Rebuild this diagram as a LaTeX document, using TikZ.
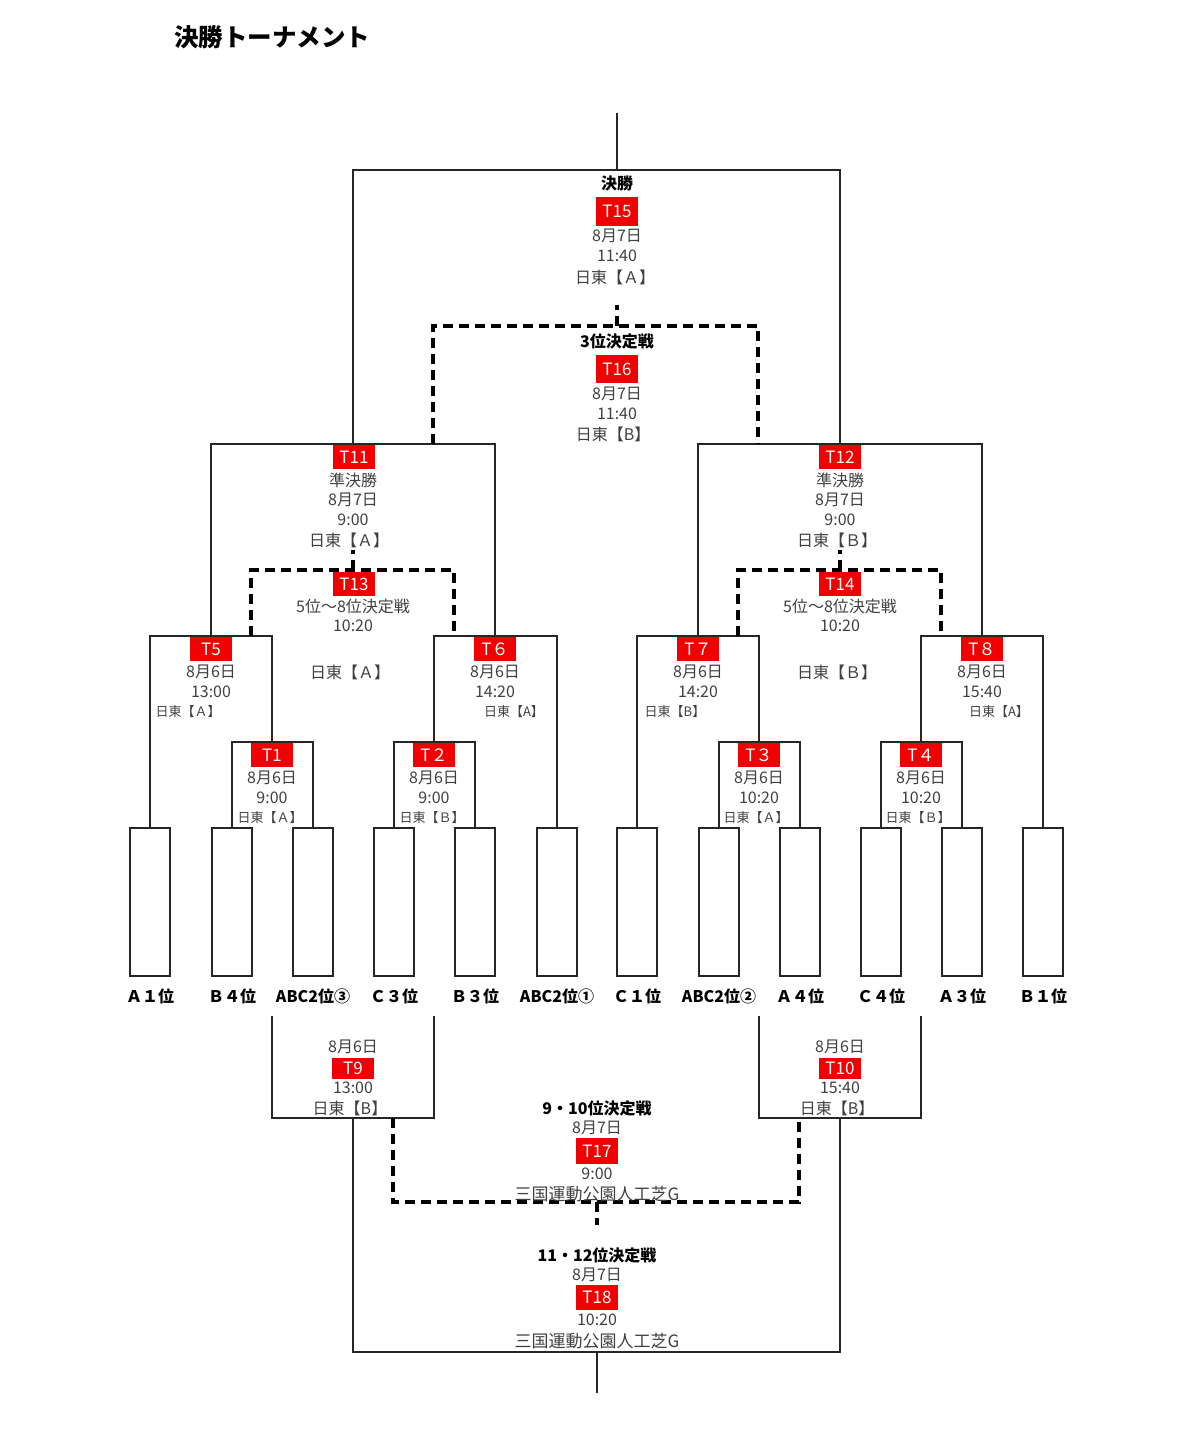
\documentclass[tikz,border=0pt]{standalone}
\usepackage{fontspec}
\setmainfont{Noto Sans CJK JP}
\definecolor{tg}{RGB}{64,64,64}
\definecolor{tred}{RGB}{240,0,0}
\begin{document}
\begin{tikzpicture}[x=1pt,y=-1pt,
  txt/.style={font=\fontsize{16}{18}\selectfont, text=tg, inner sep=0pt},
  sm/.style={font=\fontsize{13}{15}\selectfont, text=tg, inner sep=0pt},
  lbl/.style={font=\bfseries\fontsize{16}{18}\selectfont, text=black, inner sep=0pt},
  tbox/.style={fill=tred, text=white, font=\fontsize{17}{18}\selectfont, minimum width=42pt, minimum height=24pt, inner sep=0pt},
  slot/.style={draw=black!85, line width=1.3pt, minimum width=40pt, minimum height=148pt, inner sep=0pt},
  br/.style={line width=1.5pt, draw=black!85},
  dbr/.style={line width=3.2pt, draw=black, dash pattern=on 10pt off 6pt},
]
\useasboundingbox (0,0) rectangle (1179,1456);

% title
\node[lbl, font=\bfseries\fontsize{24.5}{28}\selectfont, anchor=west] (title) at (174,37) {決勝トーナメント};

% slots
\foreach \i/\x in {1/150,2/232,3/313,4/394,5/475,6/557,7/637,8/719,9/800,10/881,11/962,12/1043}
  \node[slot] (s\i) at (\x,902) {};

% team labels
\node[lbl] (n1) at (150,996) {Ａ１位};
\node[lbl] (n2) at (232,996) {Ｂ４位};
\node[lbl] (n3) at (313,996) {ABC2位③};
\node[lbl] (n4) at (394,996) {Ｃ３位};
\node[lbl] (n5) at (475,996) {Ｂ３位};
\node[lbl] (n6) at (557,996) {ABC2位①};
\node[lbl] (n7) at (637,996) {Ｃ１位};
\node[lbl] (n8) at (719,996) {ABC2位②};
\node[lbl] (n9) at (800,996) {Ａ４位};
\node[lbl] (n10) at (881,996) {Ｃ４位};
\node[lbl] (n11) at (962,996) {Ａ３位};
\node[lbl] (n12) at (1043,996) {Ｂ１位};

% match points
\coordinate (m1) at (272,742);
\coordinate (m2) at (434,742);
\coordinate (m3) at (759,742);
\coordinate (m4) at (921,742);
\coordinate (m5) at (211,636);
\coordinate (m6) at (495,636);
\coordinate (m7) at (698,636);
\coordinate (m8) at (982,636);
\coordinate (m11) at (353,444);
\coordinate (m12) at (840,444);
\coordinate (mF) at (617,170);
\coordinate (top) at (617,113);

% solid brackets (upper)
\draw[br] (s2.north) |- (m1) -| (s3.north);
\draw[br] (s4.north) |- (m2) -| (s5.north);
\draw[br] (s8.north) |- (m3) -| (s9.north);
\draw[br] (s10.north) |- (m4) -| (s11.north);
\draw[br] (s1.north) |- (m5) -| (m1);
\draw[br] (m2) |- (m6) -| (s6.north);
\draw[br] (s7.north) |- (m7) -| (m3);
\draw[br] (m4) |- (m8) -| (s12.north);
\draw[br] (m5) |- (m11) -| (m6);
\draw[br] (m7) |- (m12) -| (m8);
\draw[br] (m11) |- (mF) -| (m12);
\draw[br] (mF) -- (top);

% dashed brackets (upper)
\coordinate (d16) at (617,326);
\coordinate (d16s) at (617,305);
\coordinate (d16l) at (433,444);
\coordinate (d16r) at (758,444);
\draw[dbr] (d16l) |- (d16) -| (d16r);
\draw[dbr] (d16) -- (d16s);

\coordinate (d13) at (353,570);
\coordinate (d13s) at (353,550);
\coordinate (d13l) at (251,636);
\coordinate (d13r) at (454,636);
\draw[dbr] (d13l) |- (d13) -| (d13r);
\draw[dbr] (d13) -- (d13s);

\coordinate (d14) at (840,570);
\coordinate (d14s) at (840,550);
\coordinate (d14l) at (738,636);
\coordinate (d14r) at (941,636);
\draw[dbr] (d14l) |- (d14) -| (d14r);
\draw[dbr] (d14) -- (d14s);

% lower brackets
\coordinate (b9l) at (272,1016);
\coordinate (b9r) at (434,1016);
\coordinate (m9) at (353,1118);
\coordinate (b10l) at (759,1016);
\coordinate (b10r) at (921,1016);
\coordinate (m10) at (840,1118);
\coordinate (mB) at (597,1352);
\coordinate (bot) at (597,1393);
\draw[br] (b9l) |- (m9) -| (b9r);
\draw[br] (b10l) |- (m10) -| (b10r);
\draw[br] (m9) |- (mB) -| (m10);
\draw[br] (mB) -- (bot);

\coordinate (d17) at (597,1202);
\coordinate (d17s) at (597,1225);
\coordinate (d17l) at (393,1118);
\coordinate (d17r) at (799,1118);
\draw[dbr] (d17l) |- (d17) -| (d17r);
\draw[dbr] (d17) -- (d17s);

% T15
\node[lbl] (l15) at (617,183) {決勝};
\node[tbox, minimum height=29pt] (T15) at (617,211) {T15};
\node[txt] (a15) at (617,236) {8月7日};
\node[txt] (b15) at (617,256) {11:40};
\node[txt] (c15) at (615,277) {日東【Ａ】};

% T16
\node[lbl] (l16) at (617,341) {3位決定戦};
\node[tbox, minimum height=28pt] (T16) at (617,369) {T16};
\node[txt] (a16) at (617,394) {8月7日};
\node[txt] (b16) at (617,414) {11:40};
\node[txt] (c16) at (613,434) {日東【B】};

% T11
\node[tbox] (T11) at (354,457) {T11};
\node[txt] (l11) at (353,480) {準決勝};
\node[txt] (a11) at (353,500) {8月7日};
\node[txt] (b11) at (353,520) {9:00};
\node[txt] (c11) at (349,540) {日東【Ａ】};

% T12
\node[tbox] (T12) at (840,457) {T12};
\node[txt] (l12) at (840,480) {準決勝};
\node[txt] (a12) at (840,500) {8月7日};
\node[txt] (b12) at (840,520) {9:00};
\node[txt] (c12) at (837,540) {日東【Ｂ】};

% T13
\node[tbox] (T13) at (354,584) {T13};
\node[txt] (l13) at (353,606) {5位～8位決定戦};
\node[txt] (b13) at (353,626) {10:20};
\node[txt] (c13) at (350,672) {日東【Ａ】};

% T14
\node[tbox] (T14) at (840,584) {T14};
\node[txt] (l14) at (840,606) {5位～8位決定戦};
\node[txt] (b14) at (840,626) {10:20};
\node[txt] (c14) at (837,672) {日東【Ｂ】};

% T5-T8
\node[tbox] (T5) at (211,649) {T5};
\node[txt] (a5) at (211,672) {8月6日};
\node[txt] (b5) at (211,692) {13:00};
\node[sm] (c5) at (188,712) {日東【Ａ】};

\node[tbox] (T6) at (495,649) {T６};
\node[txt] (a6) at (495,672) {8月6日};
\node[txt] (b6) at (495,692) {14:20};
\node[sm] (c6) at (514,712) {日東【A】};

\node[tbox] (T7) at (698,649) {T７};
\node[txt] (a7) at (698,672) {8月6日};
\node[txt] (b7) at (698,692) {14:20};
\node[sm] (c7) at (675,712) {日東【B】};

\node[tbox] (T8) at (982,649) {T８};
\node[txt] (a8) at (982,672) {8月6日};
\node[txt] (b8) at (982,692) {15:40};
\node[sm] (c8) at (999,712) {日東【A】};

% T1-T4
\node[tbox] (T1) at (272,755) {T1};
\node[txt] (a1) at (272,778) {8月6日};
\node[txt] (b1) at (272,798) {9:00};
\node[sm] (c1) at (270,818) {日東【Ａ】};

\node[tbox] (T2) at (434,755) {T２};
\node[txt] (a2) at (434,778) {8月6日};
\node[txt] (b2) at (434,798) {9:00};
\node[sm] (c2) at (432,818) {日東【Ｂ】};

\node[tbox] (T3) at (759,755) {T３};
\node[txt] (a3) at (759,778) {8月6日};
\node[txt] (b3) at (759,798) {10:20};
\node[sm] (c3) at (756,818) {日東【Ａ】};

\node[tbox] (T4) at (921,755) {T４};
\node[txt] (a4) at (921,778) {8月6日};
\node[txt] (b4) at (921,798) {10:20};
\node[sm] (c4) at (918,818) {日東【Ｂ】};

% T9, T10
\node[txt] (a9) at (353,1047) {8月6日};
\node[tbox, minimum height=21pt] (T9) at (353,1068) {T9};
\node[txt] (b9) at (353,1088) {13:00};
\node[txt] (c9) at (350,1108) {日東【B】};

\node[txt] (a10) at (840,1047) {8月6日};
\node[tbox, minimum height=21pt] (T10) at (840,1068) {T10};
\node[txt] (b10) at (840,1088) {15:40};
\node[txt] (c10) at (837,1108) {日東【B】};

% T17
\node[lbl] (l17) at (597,1108) {9・10位決定戦};
\node[txt] (a17) at (597,1128) {8月7日};
\node[tbox, minimum height=26pt] (T17) at (597,1151) {T17};
\node[txt] (b17) at (597,1174) {9:00};
\node[txt, font=\fontsize{17}{18}\selectfont] (c17) at (597,1194) {三国運動公園人工芝G};

% T18
\node[lbl] (l18) at (597,1255) {11・12位決定戦};
\node[txt] (a18) at (597,1275) {8月7日};
\node[tbox, minimum height=25pt] (T18) at (597,1297) {T18};
\node[txt] (b18) at (597,1320) {10:20};
\node[txt, font=\fontsize{17}{18}\selectfont] (c18) at (597,1341) {三国運動公園人工芝G};
\end{tikzpicture}
\end{document}
